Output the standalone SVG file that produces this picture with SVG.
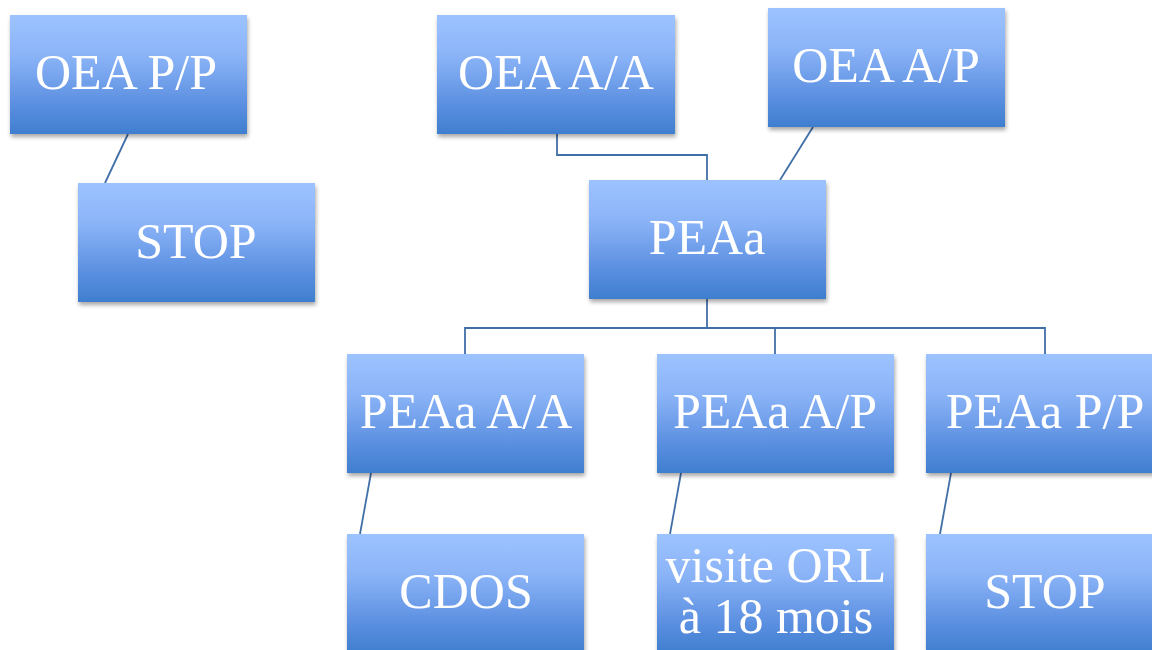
<svg xmlns="http://www.w3.org/2000/svg" width="1152" height="650" viewBox="0 0 1152 650">
  <defs>
    <linearGradient id="boxGrad" x1="0" y1="0" x2="0" y2="1">
      <stop offset="0" stop-color="#9dc3ff"/>
      <stop offset="0.35" stop-color="#8ab3f7"/>
      <stop offset="0.75" stop-color="#5b8fe0"/>
      <stop offset="1" stop-color="#3f7ecf"/>
    </linearGradient>
    <filter id="shadow" x="-10%" y="-10%" width="125%" height="130%">
      <feGaussianBlur in="SourceAlpha" stdDeviation="2"/>
      <feOffset dx="1" dy="3" result="b"/>
      <feComponentTransfer><feFuncA type="linear" slope="0.35"/></feComponentTransfer>
      <feMerge><feMergeNode/><feMergeNode in="SourceGraphic"/></feMerge>
    </filter>
  </defs>
  <style>
    .box { fill: url(#boxGrad); filter: url(#shadow); }
    .lbl { font-family: "Liberation Serif", "DejaVu Serif", serif; font-size: 50px; fill: #ffffff; text-anchor: middle; }
    .conn { fill: none; stroke: #416fa8; stroke-width: 1.8; }
  </style>
  <rect width="1152" height="650" fill="#ffffff"/>

  <g id="connectors">
    <line class="conn" x1="128" y1="134" x2="105" y2="183"/>
    <polyline class="conn" points="557,134 557,155 707,155 707,180"/>
    <line class="conn" x1="813" y1="127" x2="780" y2="180"/>
    <polyline class="conn" points="707,299 707,328"/>
    <polyline class="conn" points="465,354 465,328 1045,328 1045,354"/>
    <line class="conn" x1="775" y1="328" x2="775" y2="354"/>
    <line class="conn" x1="371" y1="473" x2="360" y2="534"/>
    <line class="conn" x1="681" y1="473" x2="670" y2="534"/>
    <line class="conn" x1="951" y1="473" x2="940" y2="534"/>
  </g>

  <g id="oea-pp">
    <rect class="box" x="10" y="15" width="237" height="119"/>
    <text class="lbl" x="126" y="89">OEA P/P</text>
  </g>
  <g id="stop-1">
    <rect class="box" x="78" y="183" width="237" height="119"/>
    <text class="lbl" x="196" y="258">STOP</text>
  </g>
  <g id="oea-aa">
    <rect class="box" x="437" y="15" width="238" height="119"/>
    <text class="lbl" x="556" y="89">OEA A/A</text>
  </g>
  <g id="oea-ap">
    <rect class="box" x="768" y="8" width="237" height="119"/>
    <text class="lbl" x="886" y="82">OEA A/P</text>
  </g>
  <g id="peaa">
    <rect class="box" x="589" y="180" width="237" height="119"/>
    <text class="lbl" x="707" y="254">PEAa</text>
  </g>
  <g id="peaa-aa">
    <rect class="box" x="347" y="354" width="237" height="119"/>
    <text class="lbl" x="466" y="428">PEAa A/A</text>
  </g>
  <g id="peaa-ap">
    <rect class="box" x="657" y="354" width="237" height="119"/>
    <text class="lbl" x="775" y="428">PEAa A/P</text>
  </g>
  <g id="peaa-pp">
    <rect class="box" x="926" y="354" width="237" height="119"/>
    <text class="lbl" x="1045" y="428">PEAa P/P</text>
  </g>
  <g id="cdos">
    <rect class="box" x="347" y="534" width="237" height="119"/>
    <text class="lbl" x="466" y="608">CDOS</text>
  </g>
  <g id="visite-orl">
    <rect class="box" x="657" y="534" width="237" height="119"/>
    <text class="lbl" x="776" y="582">visite ORL</text>
    <text class="lbl" x="776" y="633">à 18 mois</text>
  </g>
  <g id="stop-2">
    <rect class="box" x="926" y="534" width="237" height="119"/>
    <text class="lbl" x="1045" y="608">STOP</text>
  </g>
</svg>
